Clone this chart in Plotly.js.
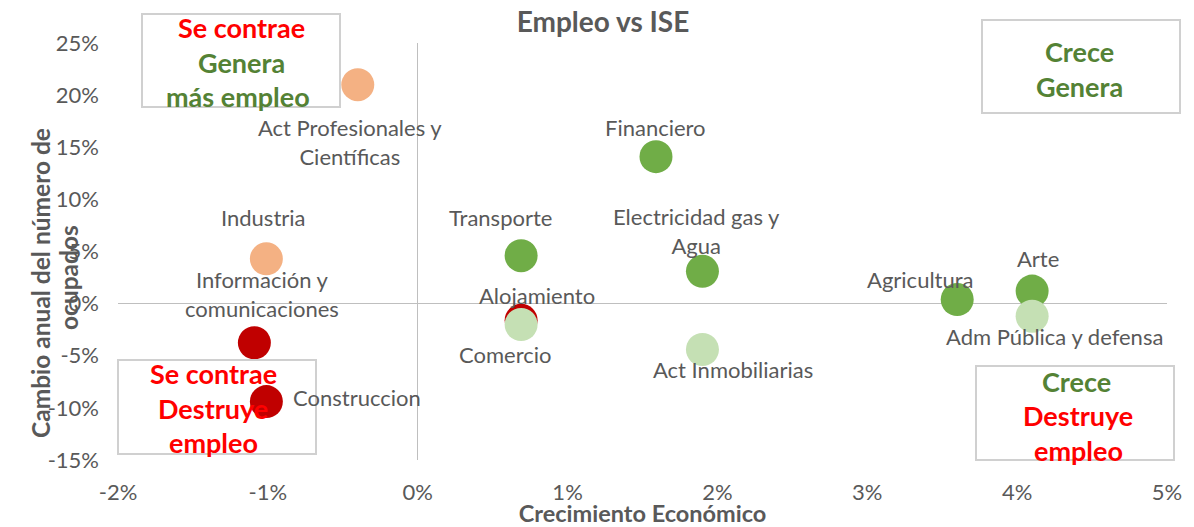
<!DOCTYPE html>
<html>
<head>
<meta charset="utf-8">
<script src="https://cdn.plot.ly/plotly-3.0.1.min.js"></script>
<style>html,body{margin:0;padding:0;background:#fff;}#chart{width:1194px;height:527px;}</style>
</head>
<body>
<div id="chart"></div>
<script>
// Data (fractions)
const sectors = ["Act Profesionales y<br>Científicas","Financiero","Industria","Transporte","Electricidad gas y<br>Agua","Agricultura","Arte","Adm Pública y defensa","Alojamiento","Comercio","Act Inmobiliarias","Información y<br>comunicaciones","Construccion"];
const growthISE = [-0.004, 0.0159, -0.0101, 0.0069, 0.019, 0.036, 0.041, 0.041, 0.0069, 0.0069, 0.019, -0.0109, -0.0101];
const employmentChange = [0.210, 0.141, 0.043, 0.046, 0.031, 0.004, 0.012, -0.012, -0.016, -0.020, -0.044, -0.0375, -0.094];
const group = ["contraeGenera","creceGenera","contraeGenera","creceGenera","creceGenera","creceGenera","creceGenera","creceDestruye","contraeDestruye","creceDestruye","creceDestruye","contraeDestruye","contraeDestruye"];
const xTickVals = [-0.02,-0.01,0,0.01,0.02,0.03,0.04,0.05];
const xTickText = ["-2%","-1%","0%","1%","2%","3%","4%","5%"];
const yTickVals = [-0.15,-0.10,-0.05,0,0.05,0.10,0.15,0.20,0.25];
const yTickText = ["-15%","-10%","-5%","0%","5%","10%","15%","20%","25%"];
const yTitleLines = ["Cambio anual del número de","ocupados"];

const groupColors = {contraeGenera:"#F4B183", creceGenera:"#70AD47", creceDestruye:"#C5E0B4", contraeDestruye:"#C00000"};
// label offsets in px (style)
const labelOffsets = [[-8,57],[0,-29],[-3,-41],[-21,-38],[-6,-40],[-37,-20],[6,-33],[22,20],[16,-25],[-16,30],[31,20],[8,-49],[91,-4]];

const trace = {
  type:"scatter", mode:"markers",
  x: growthISE, y: employmentChange, text: sectors, hoverinfo:"text",
  marker:{size:33, color: group.map(g=>groupColors[g]), line:{width:0}}
};

const gray = "#595959";
const FF = "Lato, 'Open Sans', sans-serif";
const annFont = {family:FF, size:22, color:gray};
const annotations = sectors.map((s,i)=>({
  x: growthISE[i], y: employmentChange[i], xref:"x", yref:"y", text:s, showarrow:false,
  xanchor:"center", yanchor:"middle",
  xshift: labelOffsets[i][0], yshift: -labelOffsets[i][1], font: annFont, align:"center"
}));

// Quadrant boxes (decoration)
const W=1049, H=417, L=118, B=460;
const px = v=>(v-L)/W, py = v=>(B-v)/H;
const boxes = [[142,14,340,107],[982,20,1180,113],[118,360,316,454],[976,366,1174,460]];
const shapes = boxes.map(b=>({type:"rect", xref:"paper", yref:"paper", x0:px(b[0]), x1:px(b[2]), y0:py(b[3]), y1:py(b[1]), line:{color:"#D0D0D0", width:2}, fillcolor:"rgba(0,0,0,0)", layer:"above"}));
const red="#FF0000", green="#548235";
const boxText = [
  ["Se contrae",241,27,red],["Genera",241,62,green],["más empleo",238,96,green],
  ["Crece",1079,51,green],["Genera",1079,86,green],
  ["Se contrae",213,373,red],["Destruye",213,408,red],["empleo",213,442,red],
  ["Crece",1076,381,green],["Destruye",1078,415,red],["empleo",1078,450,red]
];
boxText.forEach(t=>annotations.push({xref:"paper", yref:"paper", x:px(t[1]), y:py(t[2]), xanchor:"center", yanchor:"middle", text:"<b>"+t[0]+"</b>", showarrow:false, font:{family:FF, size:27, color:t[3]}}));

// Y axis title (two lines, overlapping tick labels as in the reference)
[[yTitleLines[0],40,283],[yTitleLines[1],68,278]].forEach(t=>annotations.push({xref:"paper", yref:"paper", x:px(t[1]), y:py(t[2]), xanchor:"center", yanchor:"middle", textangle:-90, text:"<b>"+t[0]+"</b>", showarrow:false, font:{family:FF, size:24.5, color:gray}}));

const layout = {
  width:1194, height:527,
  margin:{l:118, r:27, t:43, b:67},
  paper_bgcolor:"#fff", plot_bgcolor:"#fff",
  showlegend:false,
  title:{text:"<b>Empleo vs ISE</b>", x:0.505, xanchor:"center", y:0.958, yanchor:"middle", font:{family:FF, size:28, color:gray}},
  xaxis:{range:[-0.02,0.05], tickvals:xTickVals, ticktext:xTickText, showgrid:false, showline:false, zeroline:true, zerolinecolor:"#BFBFBF", zerolinewidth:1.5, ticks:"", ticklabelstandoff:17, tickfont:{family:FF, size:22, color:gray}, title:{text:"<b>Crecimiento Económico</b>", font:{family:FF, size:23.5, color:gray}}},
  yaxis:{range:[-0.15,0.25], tickvals:yTickVals, ticktext:yTickText, showgrid:false, showline:false, zeroline:true, zerolinecolor:"#BFBFBF", zerolinewidth:1.5, ticks:"", ticklabelstandoff:18, tickfont:{family:FF, size:22, color:gray}},
  annotations: annotations,
  shapes: shapes
};
Plotly.newPlot("chart",[trace],layout,{displayModeBar:false, staticPlot:true});
</script>
</body>
</html>
